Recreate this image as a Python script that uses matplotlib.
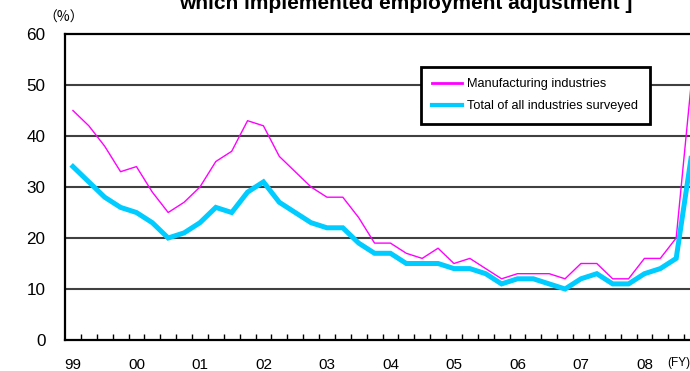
import matplotlib
matplotlib.use("Agg")
import matplotlib.pyplot as plt
import numpy as np

# Share of establishments that implemented employment adjustment (%), quarterly FY1999 Q1 - FY2008 Q4
manufacturing = [45, 42, 38, 33, 34, 29, 25, 27, 30, 35, 37, 43, 42, 36, 33, 30, 28, 28, 24, 19,
                 19, 17, 16, 18, 15, 16, 14, 12, 13, 13, 13, 12, 15, 15, 12, 12, 16, 16, 20, 52]
all_industries = [34, 31, 28, 26, 25, 23, 20, 21, 23, 26, 25, 29, 31, 27, 25, 23, 22, 22, 19, 17,
                  17, 15, 15, 15, 14, 14, 13, 11, 12, 12, 11, 10, 12, 13, 11, 11, 13, 14, 16, 37]
year_labels = ["99", "00", "01", "02", "03", "04", "05", "06", "07", "08"]
y_ticks = [0, 10, 20, 30, 40, 50, 60]
series_names = ["Manufacturing industries", "Total of all industries surveyed"]

plt.rcParams["font.family"] = ["Liberation Sans", "DejaVu Sans"]

W, H = 690, 371
fig = plt.figure(figsize=(W / 100, H / 100), dpi=100)
left, right, top, bottom = 65, 700, 34, 340
ax = fig.add_axes([left / W, 1 - bottom / H, (right - left) / W, (bottom - top) / H])

x = np.arange(len(manufacturing))
ax.plot(x, manufacturing, color="#FF00FF", lw=1.0, label=series_names[0], zorder=3)
ax.plot(x, all_industries, color="#00CCFF", lw=3.6, label=series_names[1], zorder=3,
        solid_joinstyle="miter")

ax.set_xlim(-0.5, len(manufacturing) - 0.5)
ax.set_ylim(0, 60)

# horizontal grid
for v in y_ticks[1:-1]:
    ax.axhline(v, color="#404040", lw=1.5, zorder=1)

ax.set_yticks(y_ticks)
ax.set_yticklabels([str(v) for v in y_ticks], fontsize=12.3)
ax.tick_params(axis="y", length=0, pad=14)

ax.set_xticks(np.arange(0, len(manufacturing), 4))
ax.set_xticklabels(year_labels, fontsize=11)
ax.set_xticks(np.arange(0.5, len(manufacturing) - 0.5, 1), minor=True)
ax.tick_params(axis="x", which="major", length=0, pad=13)
ax.tick_params(axis="x", which="minor", direction="in", length=4, width=1, color="black")

for s in ax.spines.values():
    s.set_color("black")
    s.set_linewidth(1.6)

fig.text(667 / W, 1 - 363 / H, "(FY)", fontsize=8.5, ha="left", va="center")
fig.text(64 / W, 1 - 18 / H, "（%）", fontsize=10, ha="center", va="center",
         family=["Noto Sans CJK JP", "DejaVu Sans"])
fig.text(406 / W, 1 - 9 / H, "which implemented employment adjustment ]", fontsize=15,
         fontweight="bold", ha="center", va="baseline")

leg = ax.legend(loc="upper left", bbox_to_anchor=(421 / W, 1 - 67 / H),
                bbox_transform=fig.transFigure, borderaxespad=0, fontsize=9.2,
                handlelength=2.3, handletextpad=0.4, borderpad=0.9, labelspacing=0.75,
                fancybox=False, framealpha=1, edgecolor="black")
leg.get_frame().set_linewidth(2)
leg.legend_handles[0].set_linewidth(2)
leg.legend_handles[1].set_linewidth(3)
leg.set_zorder(5)

fig.savefig("out.png", dpi=100)
